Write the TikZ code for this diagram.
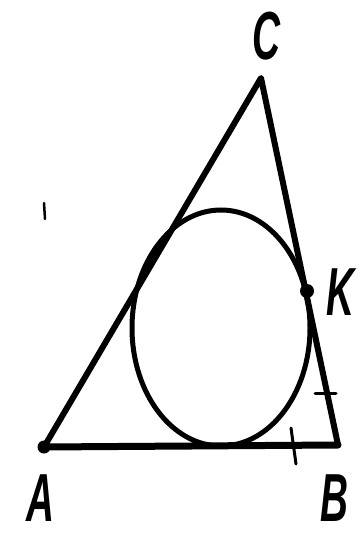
\documentclass[tikz,border=0pt]{standalone}
\usepackage{fontspec}
\setsansfont{Liberation Sans}
\begin{document}
\begin{tikzpicture}[x=1pt,y=-1pt,
  side/.style={line width=6pt,line cap=round,line join=round},
  tickmark/.style={line width=3pt,line cap=round},
  lbl/.style={font=\fontsize{68}{68}\selectfont\sffamily\itshape\bfseries,xscale=0.57,inner sep=0pt},
  ptdot/.style={circle,fill,inner sep=0pt,minimum size=14pt}]
\useasboundingbox (0,0) rectangle (359,537);
\coordinate (A) at (44,447);
\coordinate (B) at (338,445);
\coordinate (C) at (261,78);
\draw[side] (A) -- (C) -- (B);
\draw[side,line width=7pt] (A) -- (B);
\draw[line width=5pt] (221,328) ellipse [x radius=89pt, y radius=118pt];
\node[ptdot] (K) at (307,291) {};
\node[ptdot,minimum size=13pt] (Ad) at (A) {};
\draw[tickmark] (315,393) -- (336,393);
\draw[tickmark] (291,428) -- (296,464);
\draw[tickmark,line width=2.5pt] (44,203) -- (45,219);
\node[lbl] (lC) at (266,36) {C};
\node[lbl] (lK) at (340,292) {K};
\node[lbl] (lA) at (40,498) {A};
\node[lbl] (lB) at (334,498) {B};
\end{tikzpicture}
\end{document}
